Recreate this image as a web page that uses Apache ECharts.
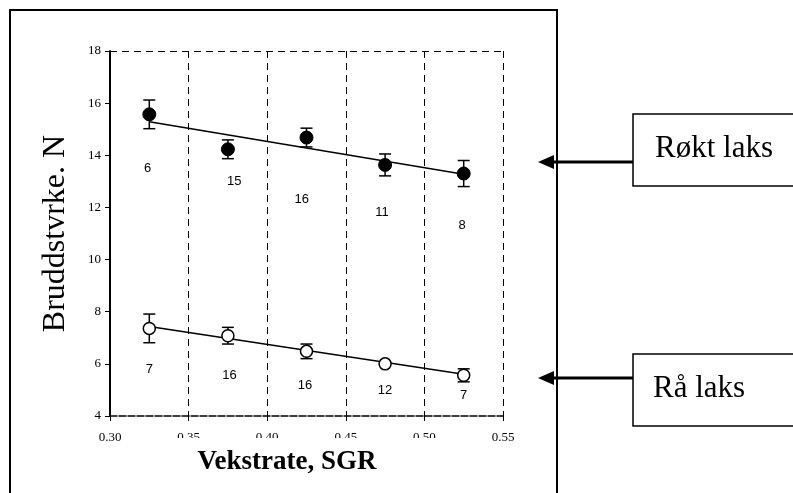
<!DOCTYPE html>
<html>
<head>
<meta charset="utf-8">
<script src="https://cdn.jsdelivr.net/npm/echarts@6/dist/echarts.min.js"></script>
<style>
html,body{margin:0;padding:0;background:#fff;}
#chart{width:793px;height:493px;}
</style>
</head>
<body>
<div id="chart"></div>
<script>
// ---- data ----
const xValues   = [0.325, 0.375, 0.425, 0.475, 0.525];
const roektMean = [15.57, 14.23, 14.68, 13.63, 13.30];
const roektErr  = [0.55, 0.36, 0.36, 0.42, 0.50];
const raaMean   = [7.36, 7.08, 6.48, 6.00, 5.56];
const raaErr    = [0.55, 0.32, 0.28, 0.06, 0.25];
const roektN    = [6, 15, 16, 11, 8];
const raaN      = [7, 16, 16, 12, 7];
const roektNX   = [0.324, 0.379, 0.422, 0.473, 0.524];
const roektNY   = [13.50, 12.98, 12.32, 11.79, 11.30];
const raaNX     = [0.325, 0.376, 0.424, 0.475, 0.525];
const raaNY     = [5.79, 5.54, 5.19, 5.00, 4.80];
const trendX    = [0.325, 0.525];
const roektTrend= [15.29, 13.27];
const raaTrend  = [7.43, 5.60];
const xTicks    = [0.30, 0.35, 0.40, 0.45, 0.50, 0.55];
const yTicks    = [4, 6, 8, 10, 12, 14, 16, 18];
const yTitle    = 'Bruddstvrke. N';
const xTitle    = 'Vekstrate, SGR';
const boxLabels = ['Røkt laks', 'Rå laks'];

const chart = echarts.init(document.getElementById('chart'), null, {renderer: 'canvas'});

function pts(xs, ys) { return xs.map((x, i) => [x, ys[i]]); }
function errData(means, errs) { return xValues.map((x, i) => [x, means[i] - errs[i], means[i] + errs[i]]); }
function nData(xs, ys, ns) { return xs.map((x, i) => [x, ys[i], ns[i]]); }

function renderErr(params, api) {
  const x = api.value(0);
  const lo = api.coord([x, api.value(1)]);
  const hi = api.coord([x, api.value(2)]);
  const hw = 6;
  const st = {stroke: '#000', lineWidth: 1.5, fill: null};
  return {
    type: 'group',
    children: [
      {type: 'line', shape: {x1: lo[0], y1: lo[1], x2: hi[0], y2: hi[1]}, style: st},
      {type: 'line', shape: {x1: lo[0] - hw, y1: lo[1], x2: lo[0] + hw, y2: lo[1]}, style: st},
      {type: 'line', shape: {x1: hi[0] - hw, y1: hi[1], x2: hi[0] + hw, y2: hi[1]}, style: st}
    ]
  };
}

const serif = 'Liberation Serif, Times New Roman, serif';
const sans = 'Liberation Sans, Arial, sans-serif';

function countSeries(data) {
  return {
    type: 'scatter', data: data, symbolSize: 0, silent: true, z: 5,
    itemStyle: {opacity: 1},
    label: {
      show: true, position: 'inside', formatter: p => String(p.value[2]),
      fontFamily: sans, fontSize: 13, color: '#000'
    }
  };
}

const boxL = 633;
const rBoxTop = 114, aBoxTop = 354, boxH = 72;
const rArrowY = 162, aArrowY = 378;
const outerRight = 557;

function arrow(y) {
  return [
    {type: 'line', shape: {x1: boxL, y1: y, x2: outerRight - 6, y2: y}, style: {stroke: '#000', lineWidth: 3}, z: 100},
    {type: 'polygon', shape: {points: [[538, y], [554, y - 7], [554, y + 7]]}, style: {fill: '#000'}, z: 100}
  ];
}

const option = {
  backgroundColor: '#fff',
  animation: false,
  grid: {left: 110, right: 290, top: 51, bottom: 77, containLabel: false},
  xAxis: {
    type: 'value', min: 0.30, max: 0.55, interval: 0.05,
    axisLine: {show: true, lineStyle: {color: '#000', width: 1.5, type: [7, 2]}},
    axisTick: {show: true, length: 5, lineStyle: {color: '#000', width: 1}},
    axisLabel: {
      color: '#000', fontFamily: serif, fontSize: 13, margin: 15,
      formatter: v => xTicks.find(t => Math.abs(t - v) < 1e-9) !== undefined ? v.toFixed(2) : ''
    },
    splitLine: {show: true, lineStyle: {color: '#000', width: 1, type: [7, 5]}}
  },
  yAxis: {
    type: 'value', min: 4, max: 18, interval: 2,
    axisLine: {show: true, lineStyle: {color: '#000', width: 2}},
    axisTick: {show: true, length: 5, lineStyle: {color: '#000', width: 1}},
    axisLabel: {
      color: '#000', fontFamily: serif, fontSize: 13, margin: 9,
      formatter: v => yTicks.indexOf(v) >= 0 ? String(v) : ''
    },
    splitLine: {show: false},
    name: yTitle, nameLocation: 'middle', nameRotate: 90, nameGap: 38,
    nameTextStyle: {fontFamily: serif, fontSize: 32, color: '#000'}
  },
  series: [
    {
      type: 'line', data: pts(trendX, roektTrend), symbol: 'none', z: 2,
      lineStyle: {color: '#000', width: 1.5}, silent: true,
      markLine: {
        silent: true, symbol: 'none', label: {show: false},
        lineStyle: {color: '#000', width: 1, type: [7, 5]},
        data: [{yAxis: 18}]
      }
    },
    {type: 'line', data: pts(trendX, raaTrend), symbol: 'none', z: 2, lineStyle: {color: '#000', width: 1.5}, silent: true},
    {type: 'custom', data: errData(roektMean, roektErr), renderItem: renderErr, z: 3, silent: true},
    {type: 'custom', data: errData(raaMean, raaErr), renderItem: renderErr, z: 3, silent: true},
    {
      type: 'scatter', data: pts(xValues, roektMean), symbol: 'circle', symbolSize: 13, z: 4,
      itemStyle: {color: '#000', borderColor: '#000', borderWidth: 1, opacity: 1}
    },
    {
      type: 'scatter', data: pts(xValues, raaMean), symbol: 'circle', symbolSize: 12, z: 4,
      itemStyle: {color: '#fff', borderColor: '#000', borderWidth: 1.5, opacity: 1}
    },
    countSeries(nData(roektNX, roektNY, roektN)),
    countSeries(nData(raaNX, raaNY, raaN))
  ],
  graphic: [
    {type: 'rect', shape: {x: 10, y: 10, width: outerRight - 10, height: 520}, style: {fill: null, stroke: '#000', lineWidth: 2}, z: 100},
    {type: 'rect', shape: {x: 150, y: 438, width: 325, height: 45}, style: {fill: '#fff'}, z: 100},
    {type: 'text', x: 287, y: 462, style: {text: xTitle, font: 'bold 27px ' + serif, fill: '#000', textAlign: 'center', textVerticalAlign: 'middle'}, z: 101},
    {type: 'rect', shape: {x: boxL, y: rBoxTop, width: 220, height: boxH}, style: {fill: '#fff', stroke: '#000', lineWidth: 1.5}, z: 100},
    {type: 'text', x: 655, y: rBoxTop + 35, style: {text: boxLabels[0], font: '31px ' + serif, fill: '#000', textAlign: 'left', textVerticalAlign: 'middle'}, z: 101},
    {type: 'rect', shape: {x: boxL, y: aBoxTop, width: 220, height: boxH}, style: {fill: '#fff', stroke: '#000', lineWidth: 1.5}, z: 100},
    {type: 'text', x: 653, y: aBoxTop + 35, style: {text: boxLabels[1], font: '31px ' + serif, fill: '#000', textAlign: 'left', textVerticalAlign: 'middle'}, z: 101}
  ].concat(arrow(rArrowY), arrow(aArrowY))
};

chart.setOption(option);
</script>
</body>
</html>
